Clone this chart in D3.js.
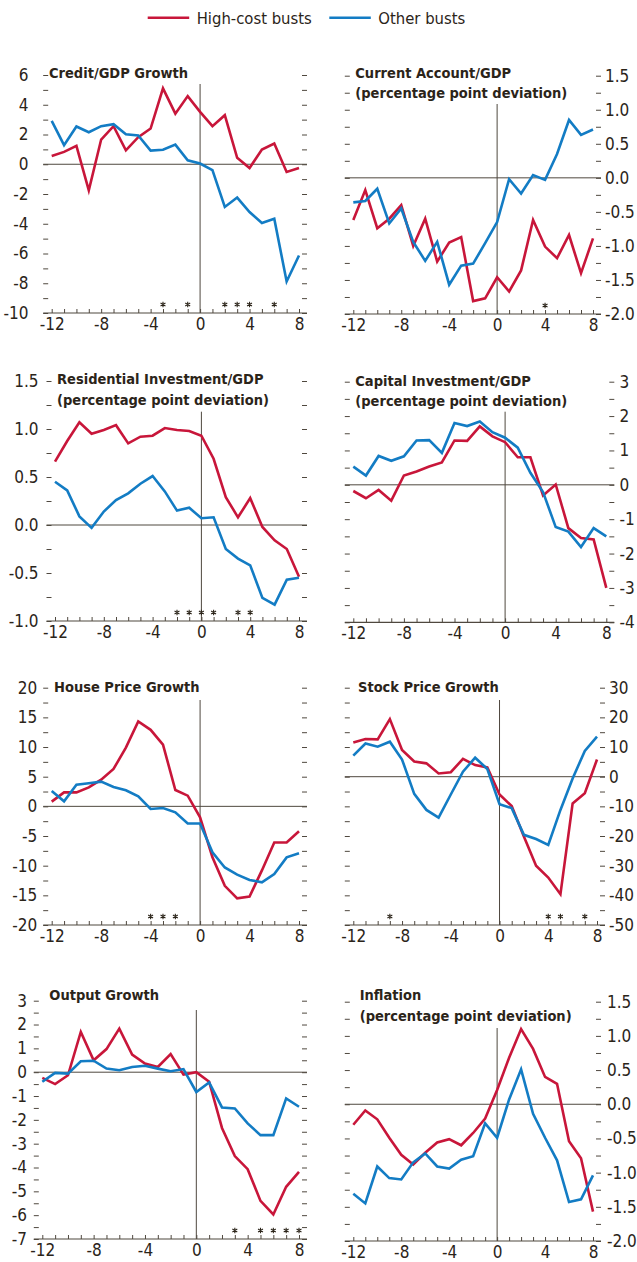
<!DOCTYPE html>
<html>
<head>
<meta charset="utf-8">
<script src="https://cdn.jsdelivr.net/npm/d3@7"></script>
<style>
    body { margin: 0; background: #fff; }
    svg text { font-family: "DejaVu Sans Condensed", "Liberation Sans Narrow", sans-serif; fill: #2b2419; }
    .tick-label text { font-size: 17px; }
    .title { font-size: 14.5px; font-weight: bold; }
    .legend { font-size: 16.5px; }
</style>
</head>
<body>
<svg id="chart" width="637" height="1262"></svg>
<script>
var years = [-12, -11, -10, -9, -8, -7, -6, -5, -4, -3, -2, -1, 0, 1, 2, 3, 4, 5, 6, 7, 8];
var xTickLabels = [-12, -8, -4, 0, 4, 8];
var seriesNames = ["High-cost busts", "Other busts"];

// Credit/GDP growth
var creditHigh  = [0.56, 0.83, 1.24, -1.75, 1.66, 2.56, 0.94, 1.82, 2.4, 5.1, 3.4, 4.58, 3.52, 2.56, 3.3, 0.43, -0.25, 0.99, 1.39, -0.52, -0.25];
var creditOther = [2.92, 1.28, 2.54, 2.15, 2.56, 2.69, 2.02, 1.93, 0.92, 0.97, 1.32, 0.27, 0.05, -0.4, -2.87, -2.24, -3.21, -3.95, -3.66, -7.88, -6.13];
var creditStars = [-3, -1, 2, 3, 4, 6];

// Current account/GDP
var caHigh  = [-0.62, -0.18, -0.74, -0.6, -0.4, -1.0, -0.6, -1.23, -0.95, -0.87, -1.81, -1.77, -1.46, -1.67, -1.36, -0.62, -1.01, -1.18, -0.84, -1.4, -0.89];
var caOther = [-0.36, -0.34, -0.16, -0.67, -0.45, -0.94, -1.22, -0.94, -1.57, -1.29, -1.26, -0.96, -0.65, -0.02, -0.23, 0.04, -0.03, 0.35, 0.85, 0.63, 0.71];
var caStars = [4];

// Residential investment/GDP
var resHigh  = [0.66, 0.875, 1.07, 0.95, 0.99, 1.04, 0.85, 0.92, 0.93, 1.01, 0.99, 0.98, 0.93, 0.69, 0.29, 0.08, 0.28, -0.02, -0.16, -0.25, -0.54];
var resOther = [0.45, 0.36, 0.09, -0.03, 0.14, 0.26, 0.33, 0.43, 0.51, 0.35, 0.15, 0.18, 0.07, 0.08, -0.25, -0.35, -0.42, -0.76, -0.83, -0.57, -0.55];
var resStars = [-2, -1, 0, 1, 3, 4];

// Capital investment/GDP
var capHigh  = [-0.18, -0.39, -0.15, -0.46, 0.27, 0.39, 0.53, 0.65, 1.29, 1.28, 1.7, 1.41, 1.24, 0.8, 0.8, -0.31, 0.01, -1.26, -1.55, -1.59, -3.0];
var capOther = [0.53, 0.27, 0.84, 0.7, 0.83, 1.29, 1.3, 0.93, 1.8, 1.71, 1.84, 1.53, 1.37, 1.08, 0.35, -0.21, -1.23, -1.36, -1.81, -1.26, -1.5];
var capStars = [];

// House price growth
var houseHigh  = [0.79, 2.36, 2.36, 3.2, 4.5, 6.3, 9.9, 14.3, 12.9, 10.4, 2.75, 1.8, -1.85, -8.6, -13.4, -15.5, -15.2, -10.8, -6.1, -6.1, -4.2];
var houseOther = [2.6, 0.84, 3.65, 3.9, 4.16, 3.26, 2.7, 1.7, -0.45, -0.28, -1.0, -2.9, -2.9, -7.75, -10.3, -11.5, -12.4, -12.8, -11.4, -8.6, -7.9];
var houseStars = [-4, -3, -2];

// Stock price growth
var stockHigh  = [11.5, 12.7, 12.6, 19.4, 9.0, 5.1, 4.5, 1.1, 1.5, 6.0, 3.9, 3.1, -6.0, -9.9, -20.2, -30, -34, -39.6, -9.0, -5.6, 5.8];
var stockOther = [7.1, 11.2, 10.1, 11.8, 5.8, -5.8, -11.2, -13.8, -6.0, 1.7, 6.4, 2.6, -9.3, -10.6, -19.6, -21, -23, -11.2, -0.6, 8.7, 13.5];
var stockStars = [-9, 4, 5, 7];

// Output growth
var outHigh  = [-0.24, -0.5, -0.13, 1.69, 0.5, 0.97, 1.83, 0.74, 0.36, 0.22, 0.76, -0.1, 0, -0.4, -2.34, -3.52, -4.07, -5.4, -5.97, -4.81, -4.18];
var outOther = [-0.4, -0.03, -0.06, 0.46, 0.48, 0.15, 0.08, 0.22, 0.27, 0.15, 0.04, 0.13, -0.83, -0.43, -1.48, -1.52, -2.15, -2.64, -2.64, -1.1, -1.45];
var outStars = [3, 5, 6, 7, 8];

// Inflation
var inflHigh  = [-0.3, -0.09, -0.22, -0.49, -0.74, -0.88, -0.71, -0.56, -0.51, -0.6, -0.42, -0.21, 0.21, 0.68, 1.1, 0.81, 0.4, 0.3, -0.54, -0.79, -1.57];
var inflOther = [-1.31, -1.45, -0.91, -1.08, -1.1, -0.85, -0.72, -0.91, -0.94, -0.81, -0.76, -0.28, -0.49, 0.07, 0.51, -0.14, -0.49, -0.82, -1.43, -1.39, -1.04];
var inflStars = [];

var redColor = "#c8163a",
    blueColor = "#137cc4",
    axisColor = "#4f483f",
    textColor = "#2b2419";

// layout of the eight panels
var panels = [
    {title: ["Credit/GDP Growth"], high: creditHigh, other: creditOther, stars: creditStars,
     domain: [-10, 6], major: 2, minor: 1, dec: 0, side: "left",
     x0: 51.7, x1: 299, top: 75, bottom: 313, labelX: 28.5, titleX: 49, titleY: 77.5, vTop: 84},
    {title: ["Current Account/GDP", "(percentage point deviation)"], high: caHigh, other: caOther, stars: caStars,
     domain: [-2, 1.5], major: 0.5, minor: 0.25, dec: 1, side: "right",
     x0: 353.3, x1: 593, top: 75.7, bottom: 314, labelX: 605, titleX: 355.3, titleY: 77.7, vTop: 104},
    {title: ["Residential Investment/GDP", "(percentage point deviation)"], high: resHigh, other: resOther, stars: resStars,
     domain: [-1, 1.5], major: 0.5, minor: 0.25, dec: 1, side: "left",
     x0: 55, x1: 299, top: 381, bottom: 621, labelX: 38.5, titleX: 57, titleY: 384.3, vTop: 411.7},
    {title: ["Capital Investment/GDP", "(percentage point deviation)"], high: capHigh, other: capOther, stars: capStars,
     domain: [-4, 3], major: 1, minor: 0.5, dec: 0, side: "right",
     x0: 353.3, x1: 606.3, top: 381.7, bottom: 622.3, labelX: 619.5, titleX: 355.3, titleY: 385.7, vTop: 411.7},
    {title: ["House Price Growth"], high: houseHigh, other: houseOther, stars: houseStars,
     domain: [-20, 20], major: 5, minor: 2.5, dec: 0, side: "left",
     x0: 51.7, x1: 299, top: 687.7, bottom: 925, labelX: 37.3, titleX: 54, titleY: 692.3, vTop: 700},
    {title: ["Stock Price Growth"], high: stockHigh, other: stockOther, stars: stockStars,
     domain: [-50, 30], major: 10, minor: 5, dec: 0, side: "right",
     x0: 353.3, x1: 597, top: 687.7, bottom: 925, labelX: 609, titleX: 358, titleY: 691.7, vTop: 700},
    {title: ["Output Growth"], high: outHigh, other: outOther, stars: outStars,
     domain: [-7, 3], major: 1, minor: 0.5, dec: 0, side: "left",
     x0: 42.3, x1: 299, top: 1000.7, bottom: 1239, labelX: 27, titleX: 49.3, titleY: 1000, vTop: 1010},
    {title: ["Inflation", "(percentage point deviation)"], high: inflHigh, other: inflOther, stars: inflStars,
     domain: [-2, 1.5], major: 0.5, minor: 0.25, dec: 1, side: "right",
     x0: 353.3, x1: 593, top: 1001.7, bottom: 1241, labelX: 607, titleX: 359.7, titleY: 1000, vTop: 1028}
];

var svg = d3.select("#chart");

var starShape = d3.symbol()
    .type(d3.symbolAsterisk || d3.symbolCross)
    .size(22);

function stepTicks(domain, step) {
    var n = Math.round((domain[1] - domain[0]) / step);
    return d3.range(0, n + 1).map(function(i) {
        return Math.round((domain[0] + i * step) * 1000) / 1000;
    });
}

function cleanAxis(g) {
    g.select(".domain").remove();
    g.selectAll("line").attr("stroke", axisColor);
}

panels.forEach(function(p) {
    var L = p.x0 - 8.5,
        R = p.x1 + 8;

    var x = d3.scaleLinear().domain([-12, 8]).range([p.x0, p.x1]);
    var y = d3.scaleLinear().domain(p.domain).range([p.bottom, p.top]);

    var g = svg.append("g");
    var minorTicks = stepTicks(p.domain, p.minor),
        majorTicks = stepTicks(p.domain, p.major);

    // small ticks on both sides
    g.append("g")
        .attr("transform", "translate(" + L + ",0)")
        .call(d3.axisRight(y).tickValues(minorTicks).tickSize(5).tickFormat(""))
        .call(cleanAxis);
    g.append("g")
        .attr("transform", "translate(" + R + ",0)")
        .call(d3.axisLeft(y).tickValues(minorTicks).tickSize(5).tickFormat(""))
        .call(cleanAxis);

    // value labels
    var labelAxis = p.side == "left" ? d3.axisLeft(y) : d3.axisRight(y);
    g.append("g")
        .attr("class", "tick-label")
        .attr("transform", "translate(" + p.labelX + ",0)")
        .call(labelAxis.tickValues(majorTicks).tickSize(0).tickPadding(0)
            .tickFormat(function(d) { return d.toFixed(p.dec); }))
        .call(function(a) { a.select(".domain").remove(); });

    // zero line
    g.append("line")
        .attr("x1", L).attr("x2", R)
        .attr("y1", y(0)).attr("y2", y(0))
        .attr("stroke", axisColor).attr("stroke-width", 1);

    // vertical line at t = 0
    g.append("line")
        .attr("x1", x(0)).attr("x2", x(0))
        .attr("y1", p.vTop).attr("y2", p.bottom)
        .attr("stroke", axisColor).attr("stroke-width", 1);

    // bottom axis
    g.append("line")
        .attr("x1", L).attr("x2", R)
        .attr("y1", p.bottom).attr("y2", p.bottom)
        .attr("stroke", axisColor).attr("stroke-width", 1.2);
    g.append("g")
        .attr("transform", "translate(0," + p.bottom + ")")
        .call(d3.axisTop(x).tickValues(years).tickSize(4).tickFormat(""))
        .call(cleanAxis);
    g.append("g")
        .attr("class", "tick-label")
        .attr("transform", "translate(0," + p.bottom + ")")
        .call(d3.axisBottom(x).tickValues(xTickLabels).tickSize(0).tickPadding(5)
            .tickFormat(function(d) { return String(d); }))
        .call(function(a) { a.select(".domain").remove(); });

    // title
    var title = g.append("text")
        .attr("class", "title")
        .attr("x", p.titleX)
        .attr("y", p.titleY);
    p.title.forEach(function(t, i) {
        title.append("tspan")
            .attr("x", p.titleX)
            .attr("dy", i == 0 ? 0 : 20.5)
            .text(t);
    });

    // lines
    var line = d3.line()
        .x(function(d, i) { return x(years[i]); })
        .y(function(d) { return y(d); });

    g.append("path")
        .datum(p.high)
        .attr("fill", "none")
        .attr("stroke", redColor)
        .attr("stroke-width", 2.6)
        .attr("d", line);

    g.append("path")
        .datum(p.other)
        .attr("fill", "none")
        .attr("stroke", blueColor)
        .attr("stroke-width", 2.6)
        .attr("d", line);

    // significance stars
    g.selectAll(".star")
        .data(p.stars)
        .enter().append("path")
        .attr("class", "star")
        .attr("d", starShape)
        .attr("transform", function(d) {
            return "translate(" + x(d) + "," + (p.bottom - 8.5) + ")";
        })
        .attr("fill", "none")
        .attr("stroke", textColor)
        .attr("stroke-width", 1.1);
});

// legend
var legendItems = [
    {name: seriesNames[0], color: redColor, x: 147.7},
    {name: seriesNames[1], color: blueColor, x: 329.3}
];
var legend = svg.append("g");
legendItems.forEach(function(d) {
    legend.append("line")
        .attr("x1", d.x).attr("x2", d.x + 41.5)
        .attr("y1", 17.7).attr("y2", 17.7)
        .attr("stroke", d.color)
        .attr("stroke-width", 2.6);
    legend.append("text")
        .attr("class", "legend")
        .attr("x", d.x + 49)
        .attr("y", 24)
        .text(d.name);
});
</script>
</body>
</html>
